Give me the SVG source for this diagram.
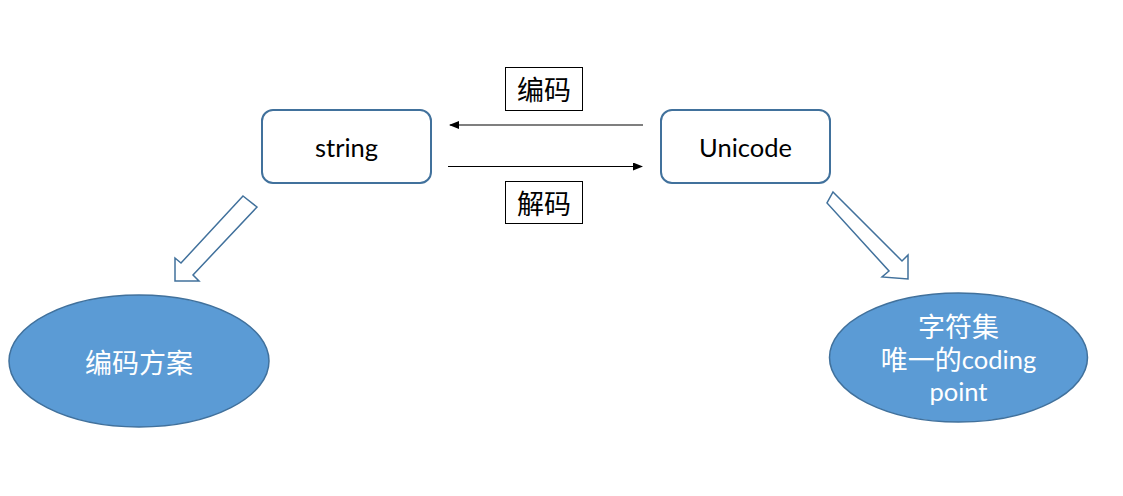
<svg xmlns="http://www.w3.org/2000/svg" width="1123" height="496" viewBox="0 0 1123 496">
<style>
.box{fill:#fff;stroke:#41719C;stroke-width:2}
.lbl{fill:#fff;stroke:#000;stroke-width:1}
.ell{fill:#5B9BD5;stroke:#41719C;stroke-width:1.5}
.hollow{fill:#fff;stroke:#41719C;stroke-width:1.5;stroke-linejoin:miter}
.t{font-family:Lato,"Noto Sans CJK SC",sans-serif;font-size:25.5px;text-anchor:middle;dominant-baseline:central}
.cn{font-size:27px}
.w{fill:#fff}
.line{stroke:#000;stroke-width:1.2;fill:none}
</style>
<defs>
<marker id="ah" markerWidth="10" markerHeight="8" refX="9" refY="4" orient="auto" markerUnits="userSpaceOnUse">
<path d="M0,0 L10,4 L0,8 Z" fill="#000"/>
</marker>
</defs>
<rect width="1123" height="496" fill="#fff"/>
<g id="connectors">
<line class="line" x1="643" y1="125" x2="450" y2="125" marker-end="url(#ah)"/>
<line class="line" x1="448" y1="166.5" x2="642" y2="166.5" marker-end="url(#ah)"/>
<polygon class="hollow" points="243,196 257,207 193,275 199,281 175,281 175,258 181,263"/>
<polygon class="hollow" points="833,192 902,261 908,255 908,279 882,277 889,271 827,203"/>
</g>
<g id="string">
<rect class="box" x="262" y="110" width="169" height="73" rx="11"/>
<text class="t" x="346.5" y="147">string</text>
</g>
<g id="unicode">
<rect class="box" x="661" y="110" width="169" height="73" rx="11"/>
<text class="t" x="745.5" y="147">Unicode</text>
</g>
<g id="label-encode">
<rect class="lbl" x="505.5" y="67.5" width="77" height="43"/>
<text class="t cn" x="544" y="89">编码</text>
</g>
<g id="label-decode">
<rect class="lbl" x="505.5" y="181.5" width="77" height="42"/>
<text class="t cn" x="544" y="203">解码</text>
</g>
<g id="scheme">
<ellipse class="ell" cx="139" cy="361" rx="130" ry="66"/>
<text class="t cn w" x="139" y="362">编码方案</text>
</g>
<g id="charset">
<ellipse class="ell" cx="958.5" cy="357.5" rx="129" ry="64.5"/>
<text class="t cn w" x="958.5" y="326">字符集</text>
<text class="t w" x="958.5" y="359"><tspan class="cn">唯一的</tspan>coding</text>
<text class="t w" x="958.5" y="391">point</text>
</g>
</svg>
